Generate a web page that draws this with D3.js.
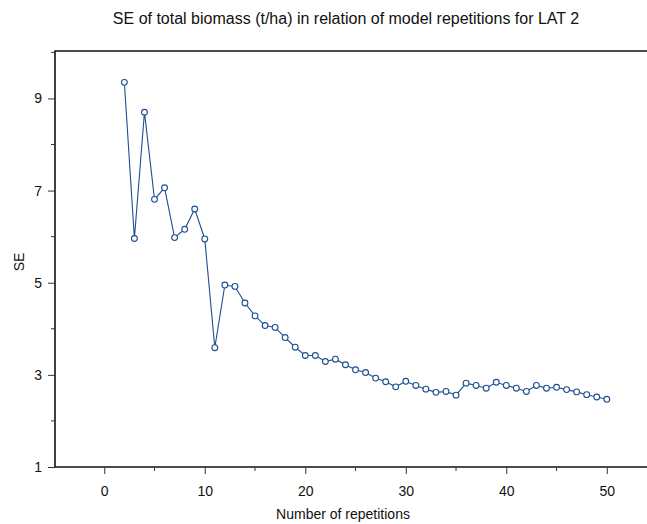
<!DOCTYPE html>
<html>
<head>
<meta charset="utf-8">
<script src="https://cdn.jsdelivr.net/npm/d3@7"></script>
<style>
  body { margin: 0; background: #fff; overflow: hidden; }
  text { font-family: "Liberation Sans", Arial, sans-serif; fill: #111; }
</style>
</head>
<body>
<div id="plot"></div>
<script>
const w = 647;
const h = 524;
const margin = {top: 51, right: 0, bottom: 57, left: 55};
const innerWidth = w - margin.left - margin.right;
const innerHeight = h - margin.top - margin.bottom;

// data
const reps = d3.range(2, 51);
const se = [9.35, 5.96, 8.70, 6.81, 7.06, 5.98, 6.16, 6.60, 5.95, 3.59,
  4.95, 4.92, 4.56, 4.28, 4.07, 4.03, 3.81, 3.60, 3.42, 3.42,
  3.29, 3.34, 3.22, 3.11, 3.05, 2.93, 2.85, 2.74, 2.86, 2.77,
  2.69, 2.62, 2.64, 2.56, 2.82, 2.77, 2.71, 2.84, 2.77, 2.71,
  2.64, 2.77, 2.71, 2.73, 2.68, 2.63, 2.57, 2.52, 2.47];
const xTicks = [0, 10, 20, 30, 40, 50];
const xMinor = [5, 15, 25, 35, 45];
const yTicks = [1, 3, 5, 7, 9];
const yMinor = [2, 4, 6, 8, 10];

const data = reps.map((r, i) => ({x: r, y: se[i]}));

const svg = d3.select("div#plot")
    .append("svg")
    .attr("width", w)
    .attr("height", h)
    .style("display", "block");

const xScale = d3.scaleLinear()
    .domain([-4.9, 54])
    .range([0, innerWidth]);

const yScale = d3.scaleLinear()
    .domain([1, 10.03])
    .range([innerHeight, 0]);

const g = svg.append("g")
    .attr("transform", `translate(${margin.left}, ${margin.top})`);

// frame (open at the right, as in the picture)
g.append("path")
    .attr("d", `M${innerWidth},0H0V${innerHeight}H${innerWidth}`)
    .attr("fill", "none")
    .attr("stroke", "#111")
    .attr("stroke-width", 1.6);

const xAxis = d3.axisBottom(xScale)
    .tickValues(xTicks)
    .tickSize(7)
    .tickPadding(12);

const yAxis = d3.axisLeft(yScale)
    .tickValues(yTicks)
    .tickSize(7)
    .tickPadding(6);

const gx = g.append("g")
    .attr("transform", `translate(0, ${innerHeight})`)
    .call(xAxis);

const gy = g.append("g")
    .call(yAxis);

[gx, gy].forEach(a => {
  a.select(".domain").remove();
  a.selectAll("text")
      .style("font-size", "14px")
      .style("font-family", "Liberation Sans, Arial, sans-serif")
      .attr("fill", "#111");
  a.selectAll("line").attr("stroke", "#333");
});

// minor ticks
g.selectAll(".xminor")
    .data(xMinor)
  .enter().append("line")
    .attr("x1", d => xScale(d))
    .attr("x2", d => xScale(d))
    .attr("y1", innerHeight)
    .attr("y2", innerHeight + 4)
    .attr("stroke", "#333");

g.selectAll(".yminor")
    .data(yMinor)
  .enter().append("line")
    .attr("x1", 0)
    .attr("x2", -4)
    .attr("y1", d => yScale(d))
    .attr("y2", d => yScale(d))
    .attr("stroke", "#333");

const blue = "#1d4f91";

const line = d3.line()
    .x(d => xScale(d.x))
    .y(d => yScale(d.y));

g.append("path")
    .datum(data)
    .attr("d", line)
    .attr("fill", "none")
    .attr("stroke", blue)
    .attr("stroke-width", 1.1);

g.selectAll("circle")
    .data(data)
  .enter().append("circle")
    .attr("cx", d => xScale(d.x))
    .attr("cy", d => yScale(d.y))
    .attr("r", 2.9)
    .attr("fill", "#fff")
    .attr("stroke", blue)
    .attr("stroke-width", 1.1);

// titles
svg.append("text")
    .attr("x", 346)
    .attr("y", 24)
    .attr("text-anchor", "middle")
    .style("font-size", "16px")
    .text("SE of total biomass (t/ha) in relation of model repetitions for LAT 2");

svg.append("text")
    .attr("x", 343)
    .attr("y", 519)
    .attr("text-anchor", "middle")
    .style("font-size", "14px")
    .text("Number of repetitions");

svg.append("text")
    .attr("transform", "translate(24, 262) rotate(-90)")
    .attr("text-anchor", "middle")
    .style("font-size", "14px")
    .text("SE");
</script>
</body>
</html>
